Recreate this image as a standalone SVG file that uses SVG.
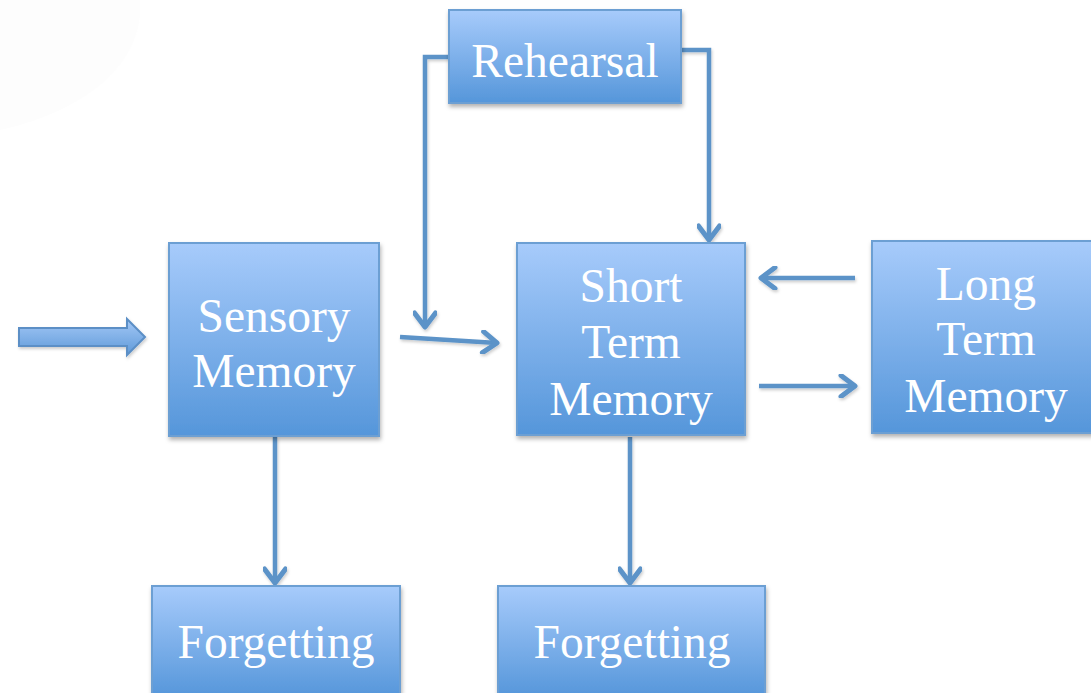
<svg xmlns="http://www.w3.org/2000/svg" width="1091" height="693" viewBox="0 0 1091 693">
<defs>
<linearGradient id="bg" x1="0" y1="0" x2="0" y2="1">
<stop offset="0" stop-color="#a7cbfb"/>
<stop offset="1" stop-color="#5596da"/>
</linearGradient>
<linearGradient id="ag" x1="0" y1="0" x2="0" y2="1">
<stop offset="0" stop-color="#a4c8f6"/>
<stop offset="1" stop-color="#5f9ad9"/>
</linearGradient>
<filter id="sh" x="-10%" y="-10%" width="120%" height="130%">
<feDropShadow dx="1" dy="3" stdDeviation="2" flood-color="#000" flood-opacity="0.3"/>
</filter>
<filter id="ls" x="-20%" y="-20%" width="140%" height="140%">
<feDropShadow dx="1" dy="2" stdDeviation="1.5" flood-color="#000" flood-opacity="0.2"/>
</filter>
<marker id="ah" viewBox="0 0 24 24" refX="19" refY="12" markerWidth="24" markerHeight="24" markerUnits="userSpaceOnUse" orient="auto">
<path d="M5,1.5 L19,12 L5,22.5" fill="none" stroke="#5b93c8" stroke-width="5" stroke-linecap="round" stroke-linejoin="round"/>
</marker>
<style>
.box{fill:url(#bg);stroke:#6c9fd3;stroke-width:2;filter:url(#sh)}
.t{font-family:"Liberation Serif","Times New Roman",serif;font-size:47.5px;fill:#ffffff;text-anchor:middle}
.c{fill:none;stroke:#5b93c8;stroke-width:4.5}
</style>
</defs>
<rect width="1091" height="693" fill="#ffffff"/>
<path d="M0,0 L140,0 C145,60 90,110 0,130 Z" fill="#fdfdfd"/>
<g id="connectors" filter="url(#ls)">
<path d="M19,328 L127,328 L127,319 L145,337 L127,355 L127,346 L19,346 Z" fill="url(#ag)" stroke="#5b8fc6" stroke-width="2" stroke-linejoin="miter"/>
<path class="c" d="M449,57 L425,57 L425,327" marker-end="url(#ah)"/>
<path class="c" d="M681,50 L709,50 L709,240" marker-end="url(#ah)"/>
<path class="c" d="M400,337 L497,343" marker-end="url(#ah)"/>
<path class="c" d="M855,278 L761,278" marker-end="url(#ah)"/>
<path class="c" d="M759,386 L855,386" marker-end="url(#ah)"/>
<path class="c" d="M275,437 L275,583" marker-end="url(#ah)"/>
<path class="c" d="M630,437 L630,583" marker-end="url(#ah)"/>
</g>
<g id="rehearsal">
<rect class="box" x="449" y="10" width="232" height="93"/>
<text class="t" x="565" y="77">Rehearsal</text>
</g>
<g id="sensory">
<rect class="box" x="169" y="243" width="210" height="193"/>
<text class="t" x="274" y="332">Sensory</text>
<text class="t" x="274" y="387">Memory</text>
</g>
<g id="stm">
<rect class="box" x="517" y="243" width="228" height="192"/>
<text class="t" x="631" y="302">Short</text>
<text class="t" x="631" y="358">Term</text>
<text class="t" x="631" y="415">Memory</text>
</g>
<g id="ltm">
<rect class="box" x="872" y="241" width="222" height="192"/>
<text class="t" x="986" y="300">Long</text>
<text class="t" x="986" y="355">Term</text>
<text class="t" x="986" y="412">Memory</text>
</g>
<g id="forget1">
<rect class="box" x="152" y="586" width="248" height="112"/>
<text class="t" x="276" y="658">Forgetting</text>
</g>
<g id="forget2">
<rect class="box" x="498" y="586" width="267" height="112"/>
<text class="t" x="632" y="658">Forgetting</text>
</g>
</svg>
